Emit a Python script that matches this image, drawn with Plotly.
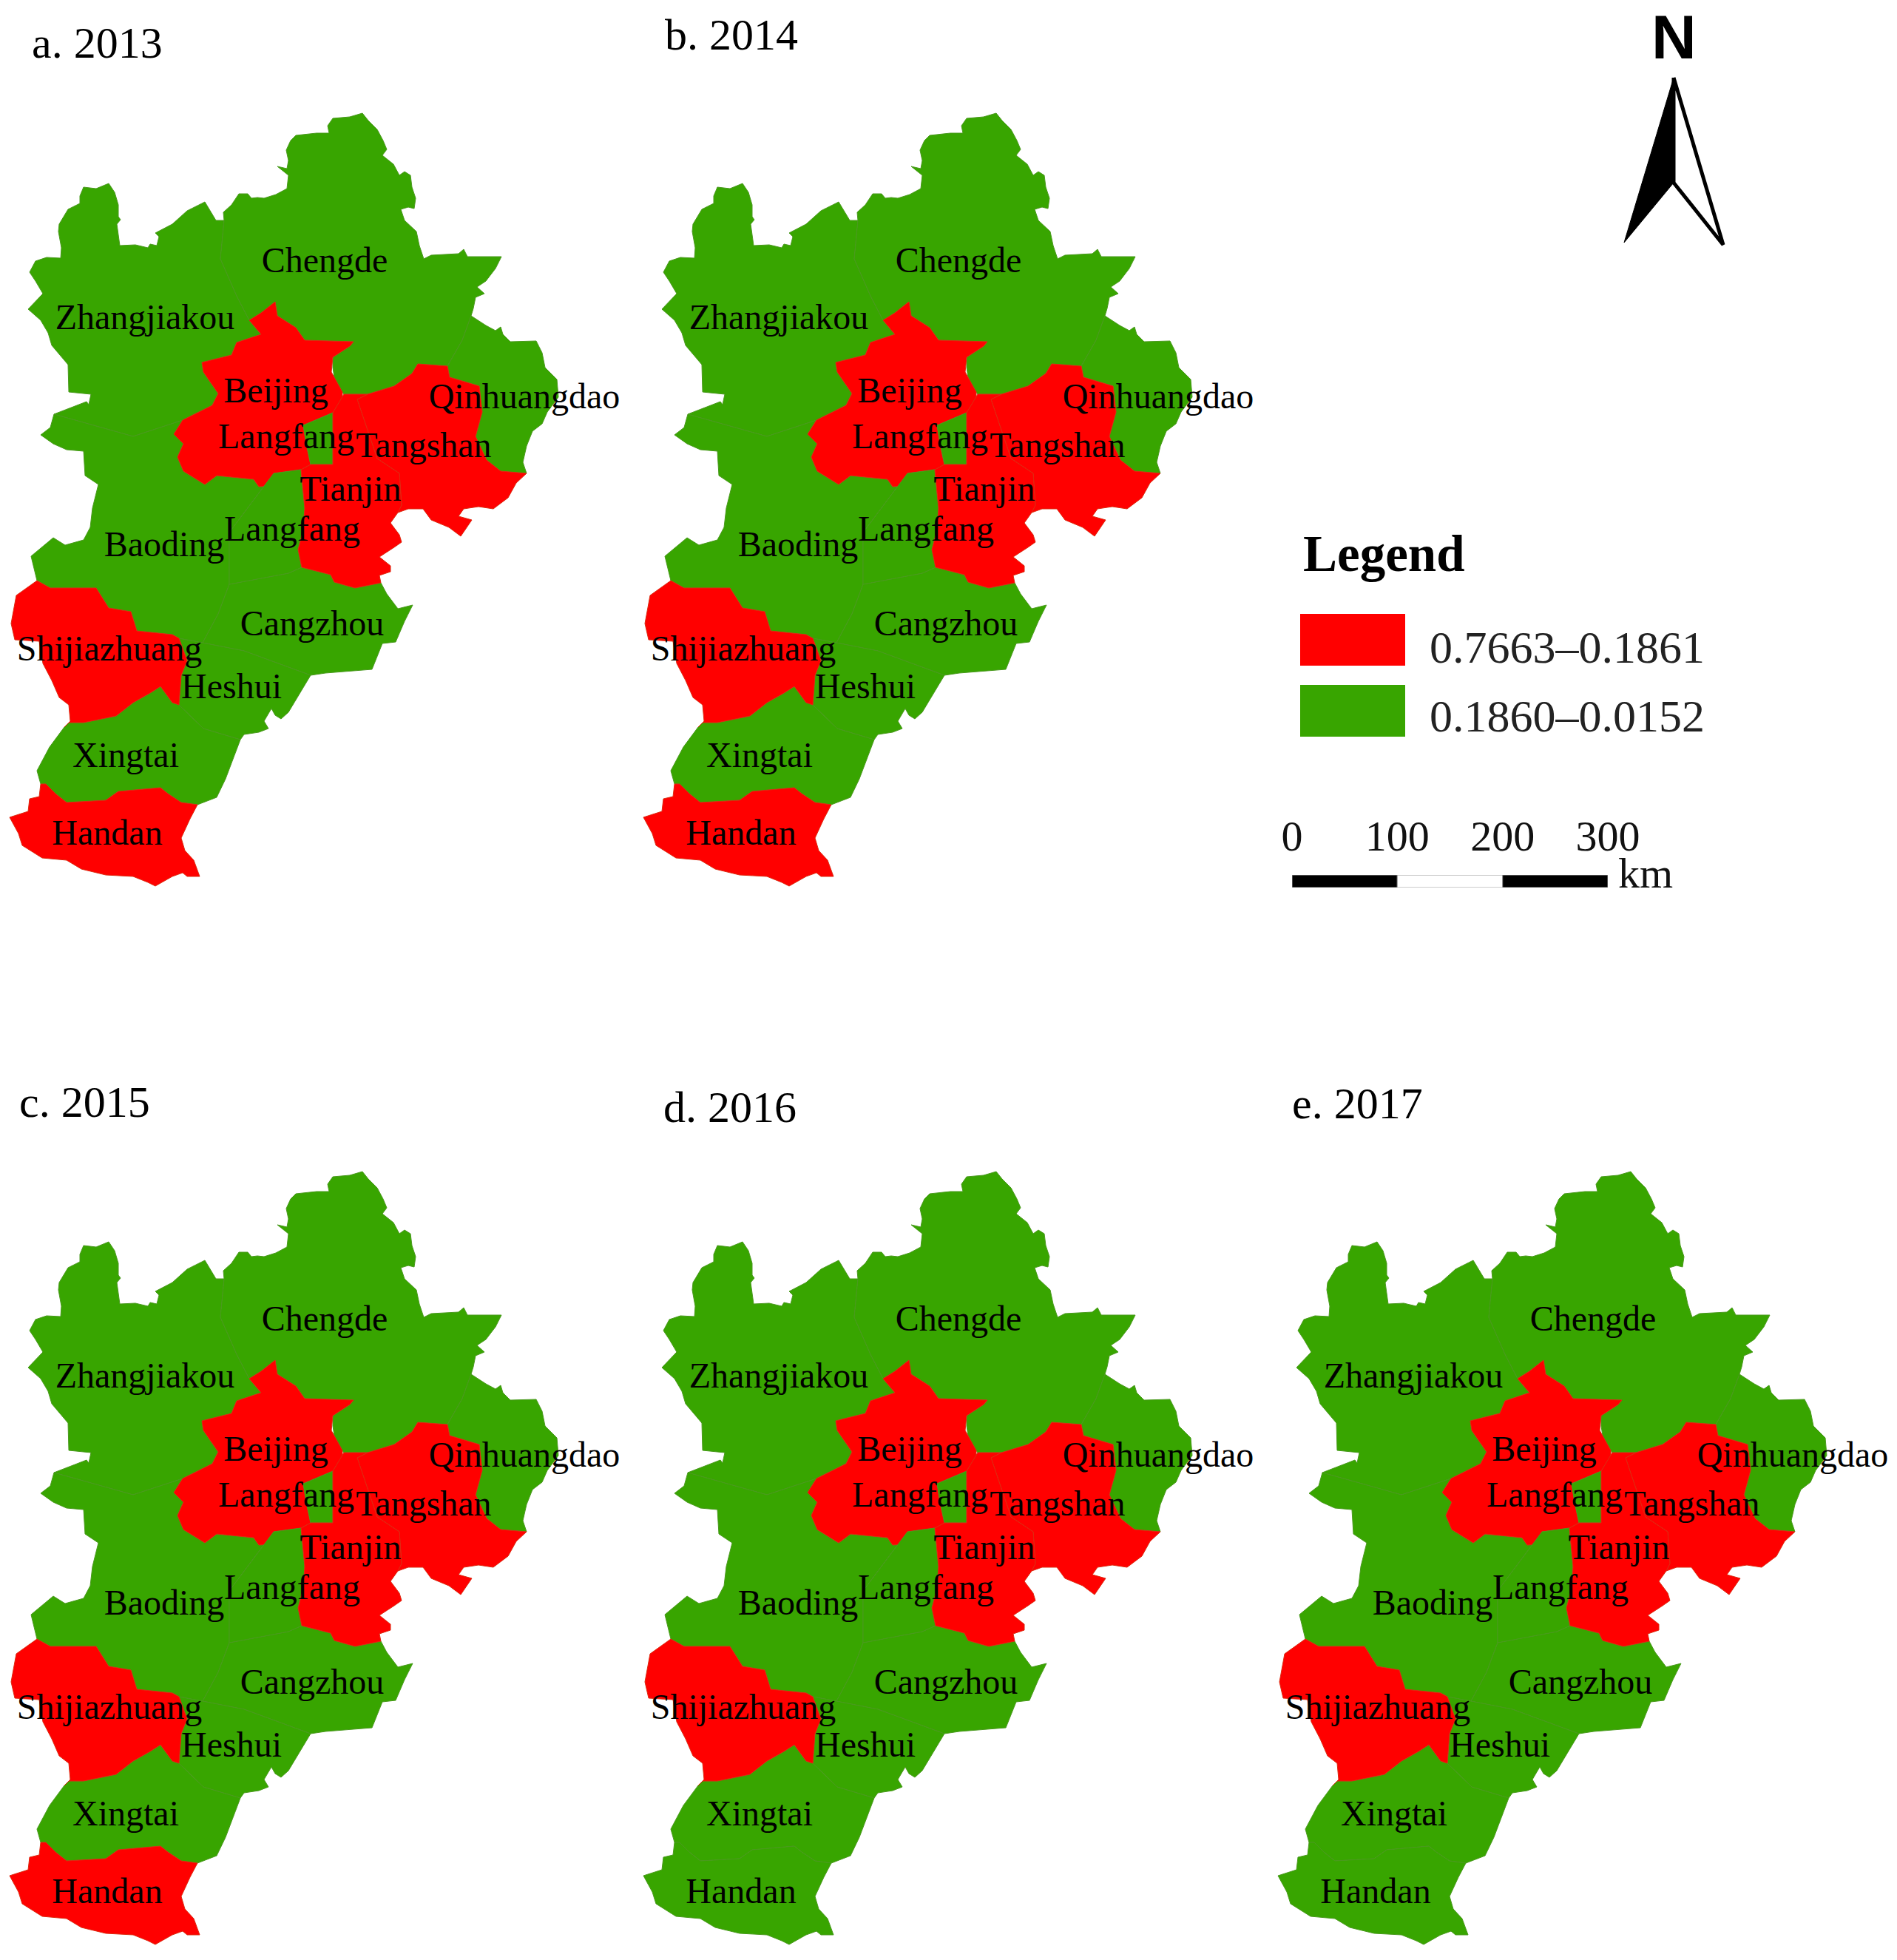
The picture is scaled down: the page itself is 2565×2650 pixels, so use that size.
import plotly.graph_objects as go

# region outlines (map pixels, y runs down)
ZHANGJIAKOU = [(40,368),(48,353),(63,348),(82,349),(83,335),(79,313),(80,303),(92,283),(108,275),(108,265),(113,253),(130,255),(147,248),(155,260),(160,277),(160,293),(163,297),(158,303),(162,332),(183,331),(200,335),(203,330),(212,332),(215,320),(210,315),(233,303),(253,285),(277,273),(283,283),(292,298),(303,298),
    (298,350),(320,400),(337,433),(353,452),(320,463),(313,480),(273,490),(275,503),(295,532),(287,548),(247,568),(180,590),(73,560),(117,543),(120,547),(123,533),(93,530),(92,493),(70,467),(65,450),(55,433),(38,418),(48,407),(58,397),(48,380)]
CHENGDE = [(303,298),(302,287),(313,277),(323,262),(335,262),(340,268),(348,267),(357,268),(373,263),(388,255),(390,237),(375,225),(388,228),(390,217),(387,203),(393,190),(400,183),(428,180),(445,180),(443,170),(450,160),(473,158),(490,153),(498,163),(510,175),(518,190),(523,202),(517,210),(532,222),(540,237),(547,232),(555,237),(557,253),(562,268),(560,282),(552,280),(542,283),(547,298),(563,313),(567,332),(573,350),(583,345),(620,343),(627,337),(632,347),(678,347),(670,363),(657,380),(645,388),(655,397),(643,402),(640,417),(637,427),
    (625,460),(605,495),(565,492),(557,505),(533,522),(497,533),(465,533),(453,517),(450,497),(450,483),(473,468),(478,462),(412,460),(400,443),(375,427),(372,408),(353,423),(337,433),(320,400),(298,350)]
QINHUANGDAO = [(637,427),(657,440),(670,447),(677,442),(680,452),(690,462),(725,461),(733,477),(737,497),(753,513),(755,537),(740,557),(733,573),(720,583),(712,603),(707,625),(712,640),(677,637),(658,622),(643,590),(652,557),(648,522),(608,510),(605,495),(625,460)]
TANGSHAN = [(565,492),(605,495),(608,510),(648,522),(652,557),(643,590),(658,622),(677,637),(712,640),(698,653),(687,673),(667,688),(647,685),(627,688),(620,698),(638,703),(623,725),(607,713),(583,703),(572,688),(552,688),(538,693),(543,683),(540,640),(510,620),(483,540),(497,533),(533,522),(557,505)]
TIANJIN = [(465,533),(497,533),(483,540),(510,620),(540,640),(543,683),(538,693),(528,707),(540,723),(543,733),(533,740),(513,753),(528,765),(528,773),(513,778),(515,788),(480,795),(452,787),(447,777),(408,767),(403,743),(410,717),(412,687),(408,647),(407,635),(420,628),(450,628),(450,558),(463,537)]
BEIJING = [(372,408),(375,427),(400,443),(412,460),(478,462),(473,468),(450,483),(448,503),(463,530),(463,537),(450,558),(410,575),(414,600),(420,628),(407,635),(370,640),(363,657),(350,658),(343,648),(293,643),(277,655),(248,637),(240,618),(248,600),(235,587),(247,568),(287,548),(295,532),(275,503),(273,490),(313,480),(320,463),(353,452),(337,433),(353,423)]
LANGFANG_NORTH = [(410,575),(450,558),(450,628),(420,628),(414,600)]
LANGFANG_SOUTH = [(370,640),(407,635),(408,647),(412,687),(410,717),(403,743),(408,767),(390,775),(310,790),(310,720)]
BAODING = [(73,560),(180,590),(247,568),(235,587),(248,600),(240,618),(248,637),(277,655),(293,643),(343,648),(350,658),(363,657),(370,640),(310,720),(310,790),(295,830),(274,869),(242,863),(233,858),(185,853),(177,827),(147,822),(130,795),(68,795),(50,785),(42,752),(72,727),(88,737),(113,730),(122,713),(125,687),(133,655),(115,643),(113,610),(90,608),(72,600),(55,588),(68,578)]
CANGZHOU = [(408,767),(447,777),(452,787),(480,795),(515,788),(523,803),(538,823),(558,818),(547,840),(535,868),(517,870),(503,905),(440,910),(420,913),(330,880),(274,869),(295,830),(310,790),(390,775)]
HESHUI = [(242,863),(253,893),(245,913),(242,953),(275,985),(325,1000),(330,993),(350,990),(363,985),(357,975),(367,958),(372,967),(380,972),(390,963),(420,913),(330,880),(274,869)]
XINGTAI = [(87,983),(93,977),(113,977),(157,968),(180,950),(203,937),(217,928),(233,950),(242,953),(275,985),(325,1000),(315,1027),(305,1053),(293,1078),(267,1088),(245,1085),(227,1073),(217,1065),(160,1070),(143,1082),(90,1085),(75,1073),(62,1060),(55,1060),(50,1042),(67,1010)]
SHIJIAZHUANG = [(50,785),(68,795),(130,795),(147,822),(177,827),(185,853),(233,858),(242,863),(253,893),(245,913),(242,953),(233,950),(217,928),(203,937),(180,950),(157,968),(113,977),(93,977),(87,983),(95,975),(93,953),(80,943),(70,920),(58,897),(53,867),(20,865),(15,843),(22,805)]
HANDAN = [(55,1060),(62,1060),(75,1073),(90,1085),(143,1082),(160,1070),(217,1065),(227,1073),(245,1085),(267,1088),(257,1107),(245,1133),(250,1150),(262,1163),(270,1185),(253,1185),(247,1180),(233,1185),(210,1198),(200,1193),(180,1185),(143,1183),(110,1175),(90,1163),(57,1160),(30,1143),(25,1127),(13,1105),(38,1097),(40,1080),(53,1077)]

regions = {
    "Zhangjiakou": [ZHANGJIAKOU],
    "Chengde": [CHENGDE],
    "Qinhuangdao": [QINHUANGDAO],
    "Baoding": [BAODING],
    "Cangzhou": [CANGZHOU],
    "Heshui": [HESHUI],
    "Xingtai": [XINGTAI],
    "Handan": [HANDAN],
    "Shijiazhuang": [SHIJIAZHUANG],
    "Beijing": [BEIJING],
    "Langfang": [LANGFANG_NORTH, LANGFANG_SOUTH],
    "Tangshan": [TANGSHAN],
    "Tianjin": [TIANJIN],
}

label_names = ["Chengde", "Zhangjiakou", "Beijing", "Qinhuangdao", "Langfang", "Tangshan", "Tianjin", "Langfang", "Baoding", "Cangzhou", "Shijiazhuang", "Heshui", "Xingtai", "Handan"]
label_x = [439, 196, 373, 709, 387, 573, 474, 395, 222, 422, 148, 313, 170, 145]
label_y = [356, 433, 532, 540, 594, 606, 665, 719, 740, 847, 881, 932, 1025, 1130]

panel_titles = ["a. 2013", "b. 2014", "c. 2015", "d. 2016", "e. 2017"]
high_class = {
    "a. 2013": ["Beijing", "Tangshan", "Tianjin", "Shijiazhuang", "Handan"],
    "b. 2014": ["Beijing", "Tangshan", "Tianjin", "Shijiazhuang", "Handan"],
    "c. 2015": ["Beijing", "Tangshan", "Tianjin", "Shijiazhuang", "Handan"],
    "d. 2016": ["Beijing", "Tangshan", "Tianjin", "Shijiazhuang"],
    "e. 2017": ["Beijing", "Tangshan", "Tianjin", "Shijiazhuang"],
}
legend_labels = ["0.7663–0.1861", "0.1860–0.0152"]
scale_ticks = [0, 100, 200, 300]
scale_starts = [0, 100, 200]
scale_widths = [100, 100, 100]

RED = "#FF0000"
GREEN = "#38A500"
RED_EDGE = "#DD2A10"
GREEN_EDGE = "#4A9A1E"
SERIF = "Liberation Serif"

W, H = 2565, 2650
PANEL_W, PANEL_H = 850, 1085
MAP_TOP = 130
panel_dx = [0, 857, 0, 857, 1715]
panel_dy = [0, 0, 1431, 1431, 1431]
title_pos = [(41, 58), (897, 47), (24, 1490), (895, 1497), (1745, 1492)]


def ring(points):
    xs = [p[0] for p in points] + [points[0][0], None]
    ys = [p[1] for p in points] + [points[0][1], None]
    return xs, ys


fig = go.Figure()
layout = {}
for i, title in enumerate(panel_titles):
    n = i + 1
    suffix = "" if n == 1 else str(n)
    left, top = panel_dx[i], MAP_TOP + panel_dy[i]
    layout[f"xaxis{suffix}"] = dict(domain=[left / W, (left + PANEL_W) / W], range=[0, PANEL_W], visible=False, anchor=f"y{suffix}")
    layout[f"yaxis{suffix}"] = dict(domain=[1 - (top + PANEL_H) / H, 1 - top / H], range=[MAP_TOP + PANEL_H, MAP_TOP], visible=False, anchor=f"x{suffix}")
    for name, parts in regions.items():
        xs, ys = [], []
        for part in parts:
            px, py = ring(part)
            xs += px
            ys += py
        red = name in high_class[title]
        fig.add_trace(go.Scatter(
            x=xs, y=ys, mode="lines", fill="toself",
            fillcolor=RED if red else GREEN,
            line=dict(color=RED_EDGE if red else GREEN_EDGE, width=1),
            xaxis=f"x{suffix}", yaxis=f"y{suffix}", hoverinfo="skip", showlegend=False,
        ))
    fig.add_trace(go.Scatter(
        x=label_x, y=label_y, text=label_names, mode="text", textposition="middle center",
        textfont=dict(family=SERIF, size=48, color="#000000"), cliponaxis=False,
        xaxis=f"x{suffix}", yaxis=f"y{suffix}", hoverinfo="skip", showlegend=False,
    ))

# page axis in picture pixels for the north arrow, legend and titles
layout["xaxis6"] = dict(domain=[0, 1], range=[0, W], visible=False, anchor="y6")
layout["yaxis6"] = dict(domain=[0, 1], range=[H, 0], visible=False, anchor="x6")
fig.add_trace(go.Scatter(x=[2263, 2196, 2263], y=[105, 328, 247], fill="toself", mode="lines", fillcolor="#000000",
                         line=dict(color="#000000", width=1), xaxis="x6", yaxis="y6", hoverinfo="skip", showlegend=False))
fig.add_trace(go.Scatter(x=[2263, 2330, 2263, 2263], y=[105, 331, 247, 105], mode="lines",
                         line=dict(color="#000000", width=5), xaxis="x6", yaxis="y6", hoverinfo="skip", showlegend=False))

# scale bar on its own km axis
layout["xaxis7"] = dict(domain=[1747 / W, 2174 / W], range=[0, 300], anchor="y7", side="top", tickvals=scale_ticks,
                        ticks="outside", ticklen=9, tickcolor="rgba(0,0,0,0)", showgrid=False, zeroline=False, showline=False,
                        tickfont=dict(family=SERIF, size=58, color="#111111"))
layout["yaxis7"] = dict(domain=[1 - 1200 / H, 1 - 1183 / H], range=[-0.5, 0.5], visible=False, anchor="x7")
fig.add_trace(go.Bar(x=scale_widths, base=scale_starts, y=[0, 0, 0], width=1, orientation="h",
                     marker=dict(color=["#000000", "#FFFFFF", "#000000"], line=dict(color="#999999", width=1)),
                     xaxis="x7", yaxis="y7", hoverinfo="skip", showlegend=False))

annotations = []
for title, (tx, ty) in zip(panel_titles, title_pos):
    annotations.append(dict(x=tx, y=ty, xref="x6", yref="y6", text=title, showarrow=False, xanchor="left", yanchor="middle",
                            font=dict(family=SERIF, size=60, color="#000000")))
annotations.append(dict(x=2263, y=50, xref="x6", yref="y6", text="<b>N</b>", showarrow=False,
                        font=dict(family="Liberation Sans", size=84, color="#000000")))
annotations.append(dict(x=1760, y=749, xref="x6", yref="y6", text="<b>Legend</b>", showarrow=False, xanchor="left", yanchor="middle",
                        font=dict(family=SERIF, size=69, color="#000000")))
for label, ly in zip(legend_labels, [875, 968]):
    annotations.append(dict(x=1931, y=ly, xref="x6", yref="y6", text=label, showarrow=False, xanchor="left", yanchor="middle",
                            font=dict(family=SERIF, size=62, color="#222222")))
annotations.append(dict(x=2186, y=1180, xref="x6", yref="y6", text="km", showarrow=False, xanchor="left", yanchor="middle",
                        font=dict(family=SERIF, size=58, color="#111111")))

shapes = [
    dict(type="rect", xref="x6", yref="y6", x0=1758, x1=1900, y0=830, y1=900, fillcolor=RED, line=dict(width=0)),
    dict(type="rect", xref="x6", yref="y6", x0=1758, x1=1900, y0=926, y1=996, fillcolor=GREEN, line=dict(width=0)),
]

fig.update_layout(template="none", width=W, height=H, margin=dict(l=0, r=0, t=0, b=0, pad=0), paper_bgcolor="white", plot_bgcolor="rgba(0,0,0,0)",
                  annotations=annotations, shapes=shapes, **layout)
fig.write_html("out.html", post_script="document.body.style.margin='0';", config={"displayModeBar": False})
